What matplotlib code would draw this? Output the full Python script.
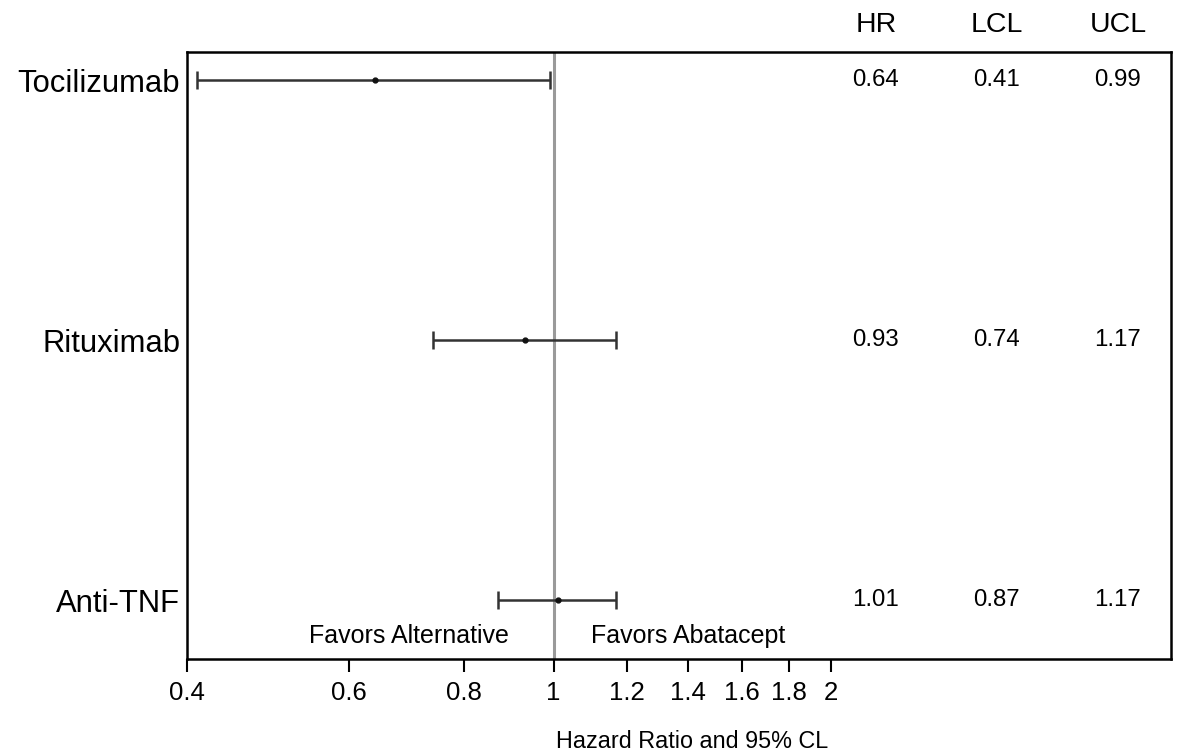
"""
Forest plot: hazard ratios of alternative biologics versus abatacept
"""

import matplotlib
matplotlib.use("Agg")
import matplotlib.pyplot as plt
import matplotlib.transforms as mtransforms
from matplotlib.ticker import NullLocator
import numpy as np

# 데이터
treatments = ["Tocilizumab", "Rituximab", "Anti-TNF"]
hr = [0.64, 0.93, 1.01]
lcl = [0.41, 0.74, 0.87]
ucl = [0.99, 1.17, 1.17]

x_ticks = [0.4, 0.6, 0.8, 1, 1.2, 1.4, 1.6, 1.8, 2]
x_tick_labels = ["0.4", "0.6", "0.8", "1", "1.2", "1.4", "1.6", "1.8", "2"]
table_columns = ["HR", "LCL", "UCL"]

plt.rcParams["font.family"] = ["Liberation Sans", "DejaVu Sans"]

fig = plt.figure(figsize=(11.78, 7.53), dpi=100)
ax = fig.add_axes([0.1588, 0.1248, 0.8353, 0.8061])

ypos = np.arange(len(treatments), 0, -1)
hr_arr = np.array(hr)
xerr = [hr_arr - np.array(lcl), np.array(ucl) - hr_arr]

# 기준선 (HR = 1)
ax.axvline(1, color="#9a9a9a", linewidth=2.2, zorder=1)

# 신뢰구간 + 점추정치
ax.errorbar(hr, ypos, xerr=xerr, fmt="o", markersize=3.5,
            color="#111111", ecolor="#333333", elinewidth=1.8,
            capsize=6.5, capthick=1.8, zorder=3)

ax.set_xscale("log")
ax.set_xlim(0.4, 4.68)
ax.set_ylim(0.773, 3.108)

ax.set_xticks(x_ticks)
ax.set_xticklabels(x_tick_labels, fontsize=18.5)
ax.xaxis.set_minor_locator(NullLocator())
ax.tick_params(axis="x", direction="out", length=9, width=1.5, pad=7)

ax.set_yticks(ypos)
ax.set_yticklabels(treatments, fontsize=22.3)
ax.tick_params(axis="y", length=0, pad=5)

for spine in ax.spines.values():
    spine.set_linewidth(1.8)

# 오른쪽 표 (HR, LCL, UCL)
col_x = [0.700, 0.823, 0.946]
row_trans = mtransforms.blended_transform_factory(ax.transAxes, ax.transData)
for name, cx in zip(table_columns, col_x):
    ax.text(cx, 1.044, name, transform=ax.transAxes, ha="center", va="center",
            fontsize=20.5)
for y, vals in zip(ypos, zip(hr, lcl, ucl)):
    for cx, v in zip(col_x, vals):
        ax.text(cx, y, f"{v:.2f}", transform=row_trans, ha="center",
                va="center", fontsize=17.3)

# 방향 표시
ax.annotate("Favors Alternative", xy=(1, 0.862), xytext=(-32, 0),
            textcoords="offset points", ha="right", va="center", fontsize=18)
ax.annotate("Favors Abatacept", xy=(1, 0.862), xytext=(27, 0),
            textcoords="offset points", ha="left", va="center", fontsize=18)

fig.text(692 / 1178, 1 - 741 / 753, "Hazard Ratio and 95% CL",
         ha="center", va="center", fontsize=16.8)

fig.savefig("out.png", dpi=100)
